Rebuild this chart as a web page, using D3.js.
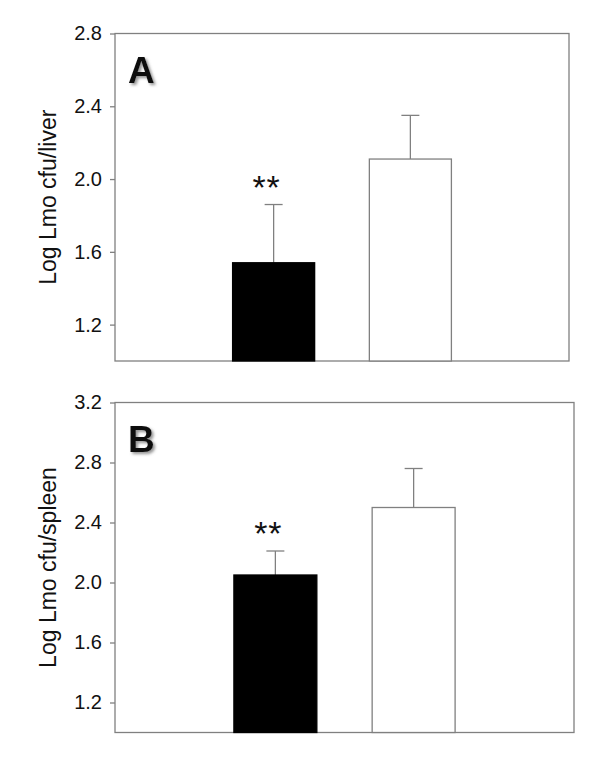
<!DOCTYPE html>
<html>
<head>
<meta charset="utf-8">
<script src="https://cdn.jsdelivr.net/npm/d3@7"></script>
<style>
  body { margin: 0; background: #fff; }
  svg text { font-family: Arial, "Liberation Sans", sans-serif; fill: #111; }
</style>
</head>
<body>
<div id="display"></div>
<script>
var groups = ["Group 1", "Group 2"];
var liverMeans = [1.54, 2.11];
var liverErrors = [0.32, 0.24];
var spleenMeans = [2.05, 2.50];
var spleenErrors = [0.16, 0.26];
var liverTicks = [1.2, 1.6, 2.0, 2.4, 2.8];
var spleenTicks = [1.2, 1.6, 2.0, 2.4, 2.8, 3.2];
var sigMarks = ["**", ""];
var barFills = ["#000000", "#ffffff"];

var svg = d3.select("#display")
    .append('svg')
    .attr('width', 600)
    .attr('height', 761);

var defs = svg.append('defs');
defs.append('filter')
    .attr('id', 'shadow')
    .attr('x', '-30%').attr('y', '-30%').attr('width', '160%').attr('height', '160%')
    .append('feDropShadow')
    .attr('dx', 2).attr('dy', 2)
    .attr('stdDeviation', 1.6)
    .attr('flood-color', '#777')
    .attr('flood-opacity', 0.8);

/* one panel: box, y axis, bars, upper error bars, stars */
function drawPanel(opt) {
    var xScale = d3.scaleBand()
        .domain(groups)
        .range([opt.left, opt.right])
        .paddingInner(0.4)
        .paddingOuter(0.86);

    var yScale = d3.scaleLinear()
        .domain([opt.yMin, opt.yMax])
        .range([opt.bottom, opt.top]);

    var data = groups.map(function(g, i) {
        return { group: g, mean: opt.means[i], err: opt.errors[i], fill: barFills[i], sig: sigMarks[i] };
    });

    var g = svg.append('g').attr('class', 'panel');

    g.append('rect')
        .attr('x', opt.left)
        .attr('y', opt.top)
        .attr('width', opt.right - opt.left)
        .attr('height', opt.bottom - opt.top)
        .attr('fill', 'none')
        .attr('stroke', '#808080')
        .attr('stroke-width', 1.3);

    var yAxis = d3.axisLeft(yScale)
        .tickValues(opt.ticks)
        .tickSize(5)
        .tickPadding(8)
        .tickFormat(d3.format('.1f'));

    var ax = g.append('g')
        .attr('class', 'y-axis')
        .attr('transform', 'translate(' + opt.left + ',0)')
        .call(yAxis);
    ax.select('.domain').remove();
    ax.selectAll('.tick line').attr('stroke', '#808080').attr('stroke-width', 1.3);
    ax.selectAll('.tick text')
        .attr('font-size', 20)
        .attr('font-family', 'Arial, "Liberation Sans", sans-serif')
        .attr('fill', '#111');

    // error bars (upper whisker only)
    g.selectAll('line.err')
        .data(data)
        .enter()
        .append('line')
        .attr('class', 'err')
        .attr('x1', function(d) { return xScale(d.group) + xScale.bandwidth() / 2; })
        .attr('x2', function(d) { return xScale(d.group) + xScale.bandwidth() / 2; })
        .attr('y1', function(d) { return yScale(d.mean); })
        .attr('y2', function(d) { return yScale(d.mean + d.err); })
        .attr('stroke', '#808080')
        .attr('stroke-width', 1.3);

    g.selectAll('line.cap')
        .data(data)
        .enter()
        .append('line')
        .attr('class', 'cap')
        .attr('x1', function(d) { return xScale(d.group) + xScale.bandwidth() / 2 - 9; })
        .attr('x2', function(d) { return xScale(d.group) + xScale.bandwidth() / 2 + 9; })
        .attr('y1', function(d) { return yScale(d.mean + d.err); })
        .attr('y2', function(d) { return yScale(d.mean + d.err); })
        .attr('stroke', '#808080')
        .attr('stroke-width', 1.3);

    g.selectAll('rect.bar')
        .data(data)
        .enter()
        .append('rect')
        .attr('class', 'bar')
        .attr('x', function(d) { return xScale(d.group); })
        .attr('y', function(d) { return yScale(d.mean); })
        .attr('width', xScale.bandwidth())
        .attr('height', function(d) { return yScale(opt.yMin) - yScale(d.mean); })
        .attr('fill', function(d) { return d.fill; })
        .attr('stroke', function(d) { return d.fill === '#000000' ? '#000' : '#808080'; })
        .attr('stroke-width', 1.3);

    g.selectAll('text.sig')
        .data(data)
        .enter()
        .append('text')
        .attr('class', 'sig')
        .attr('x', function(d) { return xScale(d.group) + xScale.bandwidth() / 2 - 7; })
        .attr('y', function(d) { return yScale(d.mean + d.err) - 6; })
        .attr('text-anchor', 'middle')
        .attr('font-size', 34)
        .attr('letter-spacing', 1)
        .text(function(d) { return d.sig; });

    g.append('text')
        .text(opt.label)
        .attr('x', opt.left + 13)
        .attr('y', opt.top + 49)
        .attr('font-size', 37)
        .attr('font-weight', 'bold')
        .attr('fill', '#000')
        .attr('filter', 'url(#shadow)');

    g.append('text')
        .text(opt.title)
        .attr('text-anchor', 'middle')
        .attr('font-size', 23)
        .attr('transform', 'translate(56,' + ((opt.top + opt.bottom) / 2) + ') rotate(-90)');
}

drawPanel({
    left: 115, right: 569, top: 33.5, bottom: 361,
    yMin: 1.0, yMax: 2.8, ticks: liverTicks,
    means: liverMeans, errors: liverErrors,
    label: 'A', title: 'Log Lmo cfu/liver'
});

drawPanel({
    left: 115, right: 574, top: 402.5, bottom: 732.5,
    yMin: 1.0, yMax: 3.2, ticks: spleenTicks,
    means: spleenMeans, errors: spleenErrors,
    label: 'B', title: 'Log Lmo cfu/spleen'
});
</script>
</body>
</html>
